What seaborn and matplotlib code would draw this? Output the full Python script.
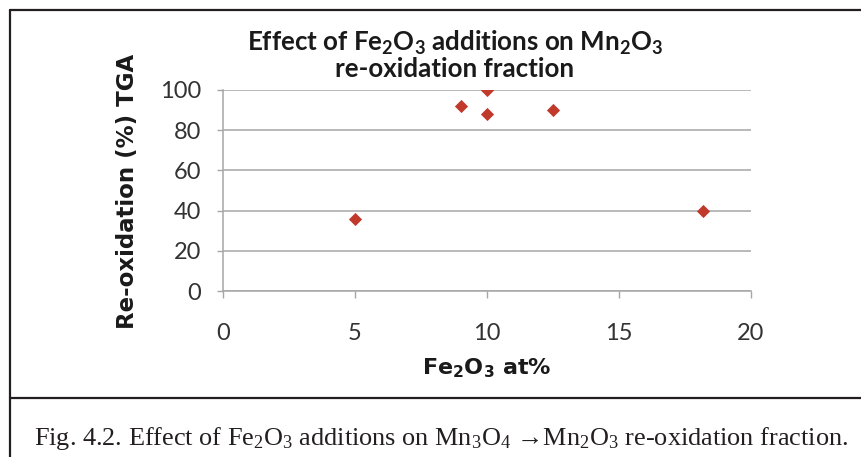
import matplotlib
matplotlib.use('Agg')
import matplotlib.pyplot as plt
import seaborn as sns
import pandas as pd
from matplotlib.lines import Line2D

# values
fe2o3_at = [5, 9, 10, 10, 12.5, 18.2]
reoxidation = [36, 92, 100, 88, 90, 40]
x_ticks = [0, 5, 10, 15, 20]
y_ticks = [0, 20, 40, 60, 80, 100]

df = pd.DataFrame({'fe2o3': fe2o3_at, 'reox': reoxidation})

sns.set_style('white')
plt.rcParams['font.family'] = ['Lato', 'DejaVu Sans']
plt.rcParams['mathtext.default'] = 'regular'

fig = plt.figure(figsize=(8.62, 4.57), dpi=100)
W, H = 862, 457
ax = fig.add_axes([223 / W, 1 - 291 / H, (751 - 223) / W, (291 - 90) / H])

sns.scatterplot(data=df, x='fe2o3', y='reox', ax=ax, marker='D', s=45,
                color='#C0392B', linewidth=0, zorder=3)

ax.set_xlim(0, 20)
ax.set_ylim(0, 100)
ax.set_xticks(x_ticks)
ax.set_yticks(y_ticks)
ax.yaxis.grid(True, color='#A6A6A6', linewidth=1.1)
ax.xaxis.grid(False)
ax.set_axisbelow(True)
for side in ['top', 'right']:
    ax.spines[side].set_visible(False)
for side in ['left', 'bottom']:
    ax.spines[side].set_color('#A6A6A6')
    ax.spines[side].set_linewidth(1.1)

ax.tick_params(axis='x', bottom=True, direction='out', length=5, width=1,
               color='#A6A6A6', pad=18, labelsize=17, labelcolor='#333333')
ax.tick_params(axis='y', left=True, direction='out', length=4.5, width=1,
               color='#A6A6A6', pad=11, labelsize=17, labelcolor='#333333')

ax.set_xlabel('')
ax.set_ylabel('')
label_font = ['DejaVu Sans']
fig.text(487 / W, 1 - 368 / H, 'Fe$_2$O$_3$ at%', ha='center', va='center',
         fontsize=16, fontweight='bold', color='#1a1a1a', family=label_font)
fig.text(128 / W, 1 - 191 / H, 'Re-oxidation (%) TGA', ha='center', va='center',
         rotation=90, fontsize=16.5, fontweight='bold', color='#1a1a1a',
         family=label_font)

fig.text(455 / W, 1 - 51 / H, 'Effect of Fe$_2$O$_3$ additions on Mn$_2$O$_3$',
         ha='center', va='baseline', fontsize=18.6, fontweight='bold', color='#1a1a1a')
fig.text(455 / W, 1 - 77 / H, 're-oxidation fraction',
         ha='center', va='baseline', fontsize=18.6, fontweight='bold', color='#1a1a1a')

fig.text(441 / W, 1 - 445 / H,
         'Fig. 4.2. Effect of Fe$_2$O$_3$ additions on Mn$_3$O$_4$ \u2192Mn$_2$O$_3$ re-oxidation fraction.',
         ha='center', va='baseline', fontsize=18.9, color='#231F20',
         family=['Liberation Serif', 'DejaVu Serif'])

# frame around figure and caption
frame = dict(color='#231F20', linewidth=1.6, transform=fig.transFigure)
fig.add_artist(Line2D([10 / W, 1], [1 - 10 / H, 1 - 10 / H], **frame))
fig.add_artist(Line2D([10 / W, 10 / W], [1 - 10 / H, 0], **frame))
fig.add_artist(Line2D([10 / W, 1], [1 - 398 / H, 1 - 398 / H], **frame))

plt.savefig('out.png', dpi=100)
